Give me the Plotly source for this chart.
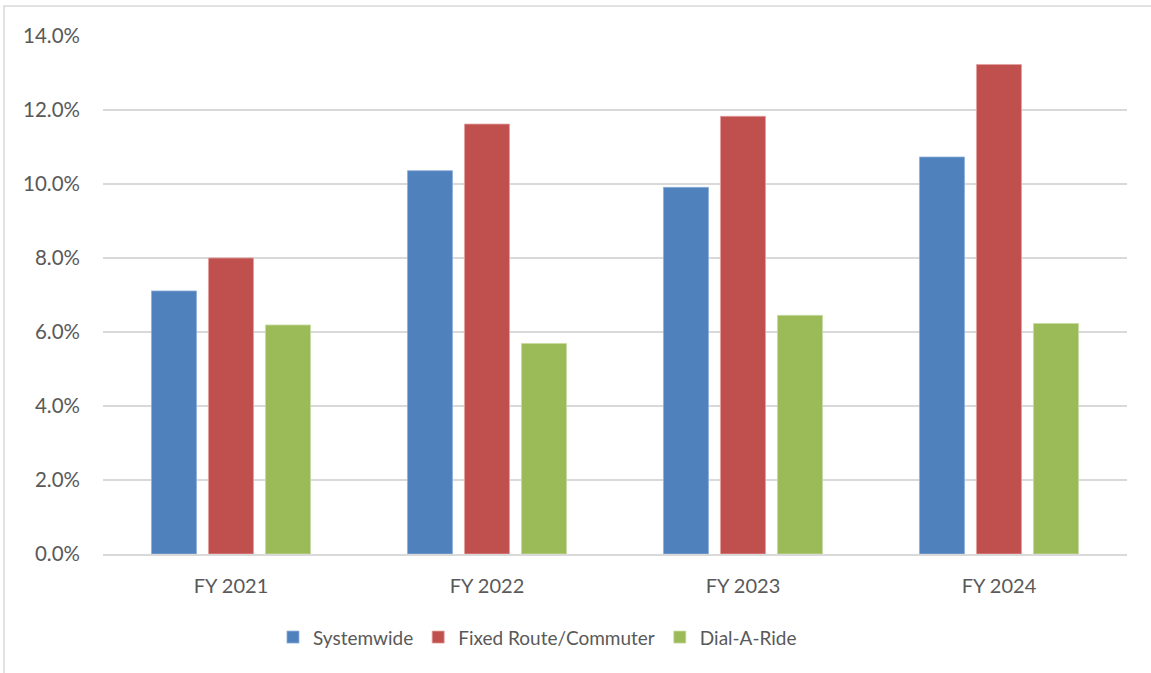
import plotly.graph_objects as go

# Fiscal years on the category axis
years = ["FY 2021", "FY 2022", "FY 2023", "FY 2024"]

# Percentages by service type
systemwide = [7.11, 10.36, 9.91, 10.73]
fixed_route = [8.00, 11.62, 11.83, 13.23]
dial_a_ride = [6.19, 5.69, 6.45, 6.23]

y_ticks = [0, 2, 4, 6, 8, 10, 12, 14]
y_tick_labels = ["0.0%", "2.0%", "4.0%", "6.0%", "8.0%", "10.0%", "12.0%", "14.0%"]

series = [
    ("Systemwide", systemwide, "#4F81BD", "#8FB0D9"),
    ("Fixed Route/Commuter", fixed_route, "#C0504D", "#E3A09E"),
    ("Dial-A-Ride", dial_a_ride, "#9BBB59", "#C7DBA0"),
]

fig = go.Figure()
for name, vals, color, edge in series:
    fig.add_trace(go.Bar(
        x=years, y=vals, name=name,
        marker=dict(color=color, line=dict(color=edge, width=0.8)),
    ))

font_family = "Lato, 'Open Sans', sans-serif"
label_color = "#595959"

fig.update_layout(
    width=1151, height=673,
    margin=dict(l=103, r=24, t=36, b=119),
    paper_bgcolor="white", plot_bgcolor="white",
    barmode="group", bargap=0.332, bargroupgap=0.21,
    font=dict(family=font_family, size=20, color=label_color),
    showlegend=True,
    legend=dict(
        orientation="h", x=0.166, xanchor="left", y=-0.124, yanchor="top",
        font=dict(size=19, color=label_color),
        itemwidth=30, traceorder="normal",
    ),
    xaxis=dict(
        showgrid=False, showline=True, linecolor="#D9D9D9", linewidth=1.5,
        ticks="", ticklabelstandoff=13,
        tickfont=dict(size=20, color=label_color),
    ),
    yaxis=dict(
        range=[0, 14], tickvals=y_ticks, ticktext=y_tick_labels,
        showgrid=True, gridcolor="#D9D9D9", gridwidth=1.5,
        zeroline=False, showline=False, ticks="",
        ticklabelstandoff=22,
        tickfont=dict(size=20.5, color=label_color),
    ),
    shapes=[
        # chart frame; its right and bottom edges run past the page
        dict(type="rect", xref="paper", yref="paper",
             x0=-0.0967, x1=1.1, y0=-0.4, y1=1.058,
             line=dict(color="#D9D9D9", width=1.5), layer="below"),
    ],
)

fig.write_html("out.html")
